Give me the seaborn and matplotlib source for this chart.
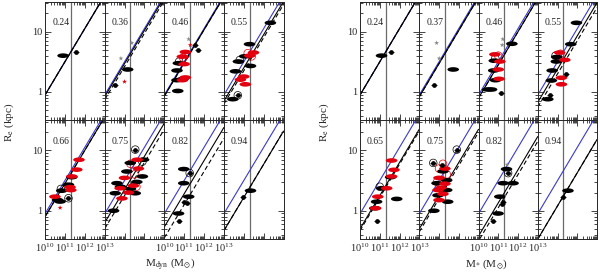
import numpy as np
import pandas as pd
import seaborn as sns
import matplotlib
matplotlib.use("Agg")
import matplotlib.pyplot as plt
from matplotlib.path import Path
from matplotlib.markers import MarkerStyle
from matplotlib.ticker import FuncFormatter, NullFormatter, LogLocator

sns.set_style("ticks")
plt.rcParams["font.family"] = ["Liberation Serif", "DejaVu Serif"]
plt.rcParams["mathtext.fontset"] = "stix"

# ---------------- data ----------------
labels_dyn = ["0.24", "0.36", "0.46", "0.55", "0.66", "0.75", "0.82", "0.94"]
labels_star = ["0.24", "0.37", "0.46", "0.55", "0.65", "0.75", "0.82", "0.94"]

SLOPE = 0.55
blue_r10 = 0.89            # R_e at 1e10 Msun of local relation (blue)
dyn_black_off = [0.0, -0.03, -0.02, -0.10, -0.05, -0.15, -0.22, -0.28]
dyn_dash_off = [0.0, -0.08, -0.02, -0.15, -0.05, -0.25, -0.40, -0.28]
star_black_off = [0.0, -0.03, -0.05, -0.12, -0.25, -0.25, -0.37, -0.42]
star_dash_off = [0.0, -0.03, -0.05, -0.20, -0.28, -0.30, -0.45, -0.42]
MCHAR = 2e11

# black ellipses: panel, log M, Re
dyn_bk_p = [0, 1, 2, 2, 2, 2, 2, 3, 3, 3, 3, 3, 3, 3, 4, 4, 4, 4, 4,
            5, 5, 5, 5, 5, 5, 5, 5, 5, 5, 5, 6, 6, 6, 6, 7]
dyn_bk_m = [10.91, 11.16, 10.68, 10.64, 10.64, 10.71, 10.95, 12.34, 11.29, 11.34, 10.73, 10.58, 10.45, 11.05,
            11.35, 11.18, 10.84, 10.63, 10.76,
            10.45, 10.53, 10.62, 11.12, 11.29, 11.62, 11.54, 11.96, 11.90, 10.80, 11.30,
            10.98, 10.98, 11.23, 10.72, 11.34]
dyn_bk_r = [4.0, 2.36, 1.04, 1.57, 2.27, 3.0, 1.65, 14.0, 6.2, 2.7, 3.2, 2.2, 0.76, 3.9,
            3.6, 2.7, 2.15, 1.51, 1.42,
            1.0, 1.95, 2.86, 4.47, 6.2, 3.0, 1.95, 7.0, 3.7, 2.5, 2.3,
            4.9, 2.86, 1.71, 0.9, 2.15]

dyn_rd_p = [2, 2, 2, 2, 2, 3, 3, 3, 3, 3, 4, 4, 4, 4, 4, 4, 5, 5, 5, 5, 5, 5, 5]
dyn_rd_m = [10.91, 11.06, 10.91, 11.06, 11.0, 11.49, 11.30, 10.83, 11.08, 11.0,
            11.71, 11.60, 11.35, 11.26, 10.50, 11.30,
            10.78, 10.87, 11.64, 11.0, 11.2, 11.7, 11.45]
dyn_rd_r = [1.57, 1.74, 3.85, 4.6, 2.9, 4.5, 4.0, 1.6, 1.34, 1.8,
            7.0, 4.8, 3.7, 2.46, 1.71, 2.2,
            2.36, 1.6, 7.0, 3.5, 2.0, 5.0, 2.6]

dyn_dot_p = [0, 1, 2, 2, 3, 4, 5, 6, 6, 6, 6, 7]
dyn_dot_m = [11.56, 10.53, 11.56, 11.70, 10.70, 11.18, 11.54, 11.28, 10.98, 11.14, 10.72, 10.95]
dyn_dot_r = [4.6, 1.32, 6.0, 5.0, 0.88, 1.61, 10.3, 4.2, 1.41, 1.33, 0.68, 1.71]

dyn_rdot_p = [1, 2, 4]
dyn_rdot_m = [11.0, 11.31, 10.76]
dyn_rdot_r = [1.48, 6.0, 1.12]

dyn_star_p = [1, 1, 2]
dyn_star_m = [10.82, 11.37, 11.23]
dyn_star_r = [3.6, 6.5, 7.5]

dyn_oc_p = [2, 3, 3, 4, 4, 5, 5, 6]
dyn_oc_m = [10.75, 10.70, 10.80, 11.18, 10.80, 11.54, 11.90, 11.28]
dyn_oc_r = [3.2, 0.88, 3.4, 1.61, 2.3, 10.3, 6.5, 4.2]
dyn_orc_p = [2, 2, 3, 3, 5, 5, 5]
dyn_orc_m = [10.95, 11.10, 11.20, 11.40, 11.50, 11.60, 11.30]
dyn_orc_r = [3.7, 4.2, 4.4, 3.9, 4.0, 2.5, 6.0]

star_bk_p = [0, 1, 2, 2, 2, 2, 2, 2, 3, 3, 3, 3, 3, 3, 3, 4, 4, 4, 4, 4,
             5, 5, 5, 5, 5, 5, 5, 6, 6, 6, 6, 6, 7]
star_bk_m = [11.09, 11.72, 11.69, 10.77, 10.86, 10.66, 10.47, 10.80,
             11.96, 11.67, 10.96, 10.94, 10.73, 10.69, 10.51,
             11.10, 11.86, 10.84, 10.75, 11.55,
             10.74, 10.90, 11.39, 11.39, 11.44, 10.95, 11.20,
             11.42, 11.25, 11.75, 11.08, 10.99, 11.53]
star_bk_r = [4.0, 2.36, 6.3, 2.27, 1.57, 1.1, 1.1, 3.3,
             14.0, 6.2, 3.8, 3.2, 2.27, 1.55, 0.76,
             2.36, 1.57, 1.41, 1.1, 3.6,
             1.0, 2.86, 3.2, 2.2, 1.41, 1.8, 4.5,
             4.9, 2.86, 2.86, 1.71, 0.9, 2.15]

star_rd_p = [2, 2, 2, 2, 3, 3, 3, 3, 4, 4, 4, 4, 4, 4, 5, 5, 5, 5, 5, 5, 5]
star_rd_m = [10.83, 11.08, 11.0, 11.04, 11.11, 11.37, 11.2, 11.2,
             11.60, 11.72, 11.60, 11.35, 10.90, 10.79,
             11.0, 11.1, 11.2, 11.0, 11.3, 11.3, 10.95]
star_rd_r = [4.2, 3.2, 2.36, 1.65, 4.5, 3.4, 1.72, 1.34,
             6.8, 4.76, 3.7, 2.36, 1.71, 1.1,
             3.5, 2.4, 1.9, 1.5, 5.0, 2.8, 2.2]

star_dot_p = [0, 1, 2, 3, 3, 4, 5, 5, 5, 6, 6, 6, 6, 7]
star_dot_m = [11.55, 10.74, 11.16, 10.60, 11.45, 10.85, 10.71, 11.90, 11.13, 11.50, 11.25, 11.20, 10.74, 11.28]
star_dot_r = [4.6, 1.32, 0.98, 0.88, 2.0, 0.68, 6.2, 10.3, 5.8, 4.2, 1.41, 1.30, 0.68, 1.71]

star_star_p = [1, 1, 2, 2, 6]
star_star_m = [10.88, 11.01, 11.23, 11.20, 11.45]
star_star_r = [6.5, 3.6, 7.5, 6.0, 5.8]

star_oc_p = [2, 3, 4, 5, 5, 6]
star_oc_m = [10.85, 10.90, 11.00, 11.90, 10.71, 11.50]
star_oc_r = [3.6, 4.0, 2.5, 10.3, 6.2, 4.2]
star_orc_p = [2, 3, 5, 5, 5, 5]
star_orc_m = [11.00, 11.15, 11.20, 11.00, 11.40, 10.90]
star_orc_r = [4.0, 4.3, 6.0, 5.0, 4.0, 3.0]


def frame(p, m, r):
    return pd.DataFrame({"panel": p, "M": np.power(10.0, m), "R": r})


blocks = [
    dict(labels=labels_dyn, black=dyn_black_off, dash=dyn_dash_off,
         bk=frame(dyn_bk_p, dyn_bk_m, dyn_bk_r), rd=frame(dyn_rd_p, dyn_rd_m, dyn_rd_r),
         dot=frame(dyn_dot_p, dyn_dot_m, dyn_dot_r), rdot=frame(dyn_rdot_p, dyn_rdot_m, dyn_rdot_r),
         star=frame(dyn_star_p, dyn_star_m, dyn_star_r),
         oc=frame(dyn_oc_p, dyn_oc_m, dyn_oc_r), orc=frame(dyn_orc_p, dyn_orc_m, dyn_orc_r),
         xlabel=r"M$_{\rm dyn}$ (M$_{\odot}$)", left=45, right=283.5, xl=170),
    dict(labels=labels_star, black=star_black_off, dash=star_dash_off,
         bk=frame(star_bk_p, star_bk_m, star_bk_r), rd=frame(star_rd_p, star_rd_m, star_rd_r),
         dot=frame(star_dot_p, star_dot_m, star_dot_r), rdot=frame([], [], []),
         star=frame(star_star_p, star_star_m, star_star_r),
         oc=frame(star_oc_p, star_oc_m, star_oc_r), orc=frame(star_orc_p, star_orc_m, star_orc_r),
         xlabel=r"M$_{*}$ (M$_{\odot}$)", left=360, right=597, xl=486),
]

W, H = 600, 273
fig = plt.figure(figsize=(W / 100, H / 100), dpi=100)

circ = Path.unit_circle()
ellipse = MarkerStyle(Path(circ.vertices * np.array([1.0, 0.4]), circ.codes))
RED = "#e3000f"
BLUE = "#3a3acb"

for bi, b in enumerate(blocks):
    gs = fig.add_gridspec(2, 4, left=b["left"] / W, right=b["right"] / W,
                          top=1 - 1.5 / H, bottom=1 - 239 / H, wspace=0, hspace=0)
    for k in range(8):
        row, col = divmod(k, 4)
        ax = fig.add_subplot(gs[row, col])
        ax.set_xscale("log")
        ax.set_yscale("log")
        ax.set_xlim(1e10, 1e13)
        ax.set_ylim(0.34, 31.6)

        ax.axvline(MCHAR, color="#6a6a6a", lw=0.9, zorder=1)
        r10 = blue_r10
        ax.axline((1e10, r10), (1e13, r10 * 10 ** (3 * SLOPE)), color=BLUE, lw=0.8, zorder=2)
        rb = r10 * 10 ** b["black"][k]
        ax.axline((1e10, rb), (1e13, rb * 10 ** (3 * SLOPE)), color="black", lw=0.8, zorder=2)
        rd = r10 * 10 ** b["dash"][k]
        ax.axline((1e10, rd), (1e13, rd * 10 ** (3 * SLOPE)), color="black", lw=0.8,
                  ls=(0, (4, 2.5)), zorder=2)

        sub = lambda df: df[df["panel"] == k]
        d = sub(b["oc"])
        if len(d):
            sns.scatterplot(data=d, x="M", y="R", marker="o", s=30, facecolor="none",
                            edgecolor="black", linewidth=0.5, ax=ax, legend=False, zorder=3)
        d = sub(b["orc"])
        if len(d):
            sns.scatterplot(data=d, x="M", y="R", marker="o", s=30, facecolor="none",
                            edgecolor=RED, linewidth=0.5, ax=ax, legend=False, zorder=3)
        d = sub(b["bk"])
        if len(d):
            sns.scatterplot(data=d, x="M", y="R", marker=ellipse, s=70, color="black",
                            edgecolor="none", ax=ax, legend=False, zorder=4)
        d = sub(b["rd"])
        if len(d):
            sns.scatterplot(data=d, x="M", y="R", marker=ellipse, s=70, color=RED,
                            edgecolor="none", ax=ax, legend=False, zorder=5)
        d = sub(b["dot"])
        if len(d):
            m = d["M"].to_numpy()
            ax.errorbar(m, d["R"], xerr=[m - m / 10 ** 0.15, m * 10 ** 0.15 - m], fmt="o",
                        ms=2.4, color="black", lw=0.6, capsize=0, zorder=6)
        d = sub(b["rdot"])
        if len(d):
            sns.scatterplot(data=d, x="M", y="R", marker="*", s=14, color=RED,
                            edgecolor="none", ax=ax, legend=False, zorder=6)
        d = sub(b["star"])
        if len(d):
            sns.scatterplot(data=d, x="M", y="R", marker="*", s=14, color="#888888",
                            edgecolor="none", ax=ax, legend=False, zorder=6)

        ax.set_xlim(1e10, 1e13)
        ax.set_ylim(0.34, 31.6)
        ax.set_xlabel("")
        ax.set_ylabel("")
        ax.text(0.12, 0.82, b["labels"][k], transform=ax.transAxes, fontsize=7,
                ha="left", va="center")

        ax.xaxis.set_major_locator(LogLocator(base=10, numticks=10))
        ax.xaxis.set_minor_locator(LogLocator(base=10, subs=np.arange(2, 10), numticks=20))
        ax.yaxis.set_major_locator(LogLocator(base=10, numticks=10))
        ax.yaxis.set_minor_locator(LogLocator(base=10, subs=np.arange(2, 10), numticks=20))
        ax.yaxis.set_major_formatter(FuncFormatter(lambda v, p: f"{v:g}"))
        ax.yaxis.set_minor_formatter(NullFormatter())
        ax.xaxis.set_minor_formatter(NullFormatter())
        ax.tick_params(which="both", direction="in", top=True, right=True,
                       labelsize=7.5, width=0.6, pad=2)
        ax.tick_params(which="major", length=4)
        ax.tick_params(which="minor", length=2)
        ax.tick_params(labelleft=(col == 0), labelbottom=(row == 1 and col in (0, 2)))
        for s in ax.spines.values():
            s.set_linewidth(0.7)

    fig.text(b["xl"] / W, 1 - 264 / H, b["xlabel"], ha="center", va="center", fontsize=8)
    fig.text((b["left"] - 36) / W, 1 - 122 / H, r"R$_{\rm e}$ (kpc)", rotation=90,
             ha="center", va="center", fontsize=8)

fig.savefig("out.png", dpi=100)
